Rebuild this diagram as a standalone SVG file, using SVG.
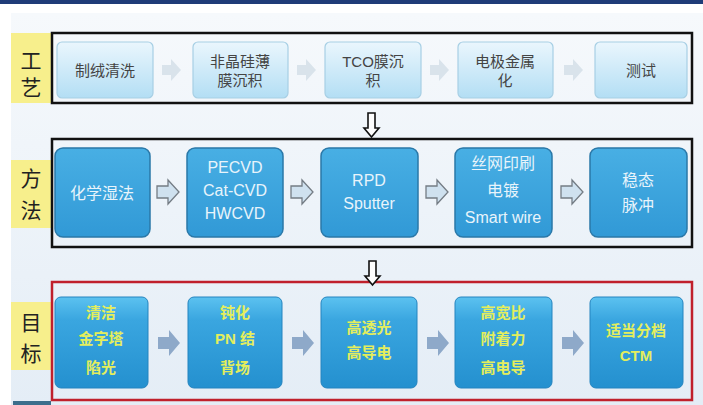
<svg xmlns="http://www.w3.org/2000/svg" width="703" height="405" viewBox="0 0 703 405">
  <defs>
    <linearGradient id="bg" x1="0" y1="0" x2="0" y2="1">
      <stop offset="0" stop-color="#f6f9fc"/>
      <stop offset="1" stop-color="#e4edf6"/>
    </linearGradient>
    <linearGradient id="g1" x1="0" y1="0" x2="0" y2="1">
      <stop offset="0" stop-color="#eaf6fd"/>
      <stop offset="1" stop-color="#b3def4"/>
    </linearGradient>
    <linearGradient id="g2" x1="0" y1="0" x2="0" y2="1">
      <stop offset="0" stop-color="#48afe4"/>
      <stop offset="1" stop-color="#3199d6"/>
    </linearGradient>
    <linearGradient id="g3" x1="0" y1="0" x2="0" y2="1">
      <stop offset="0" stop-color="#5cc2f0"/>
      <stop offset="0.25" stop-color="#3aa6e0"/>
      <stop offset="1" stop-color="#2490cf"/>
    </linearGradient>
    <style>
      .lbl{fill:#f7ef8c}
      .lt{font-family:"Liberation Sans","Noto Sans CJK SC",sans-serif;font-size:21px;fill:#222;text-anchor:middle;dominant-baseline:central}
      .frame{fill:none;stroke:#111;stroke-width:2.5}
      .frameR{fill:none;stroke:#c0202c;stroke-width:2.5}
      .n1 rect{fill:url(#g1);stroke:#a7cfe4;stroke-width:1.2}
      .n2 rect{fill:url(#g2);stroke:#2a78a8;stroke-width:1.5}
      .n3 rect{fill:url(#g3);stroke:#2484bf;stroke-width:1}
      .t1{font-family:"Liberation Sans","Noto Sans CJK SC",sans-serif;font-size:15px;fill:#444;text-anchor:middle;dominant-baseline:central}
      .t2{font-family:"Liberation Sans","Noto Sans CJK SC",sans-serif;font-size:16px;fill:#e8f4fb;text-anchor:middle;dominant-baseline:central}
      .t3{font-family:"Liberation Sans","Noto Sans CJK SC",sans-serif;font-size:15px;font-weight:bold;fill:#e4ee5c;text-anchor:middle;dominant-baseline:central}
      .a1{fill:#d9e3eb}
      .a2{fill:#cfe1ef;stroke:#747c84;stroke-width:1.3}
      .a3{fill:#8ea9c9}
      .ad{fill:#fdfdfd;stroke:#111;stroke-width:1.6}
    </style>
  </defs>

  <rect width="703" height="405" fill="#ffffff"/>
  <rect x="11" y="13" width="692" height="392" fill="url(#bg)"/>
  <rect x="0" y="0" width="703" height="4" fill="#1f3c78"/>
  <rect x="13" y="401" width="38" height="4" fill="#3c6e8c"/>

  <!-- Row labels -->
  <g id="label-gongyi">
    <rect class="lbl" x="11" y="33" width="41" height="70"/>
    <text class="lt" x="31" y="60">工</text>
    <text class="lt" x="31" y="87">艺</text>
  </g>
  <g id="label-fangfa">
    <rect class="lbl" x="11" y="160" width="41" height="68"/>
    <text class="lt" x="31" y="178">方</text>
    <text class="lt" x="31" y="210">法</text>
  </g>
  <g id="label-mubiao">
    <rect class="lbl" x="11" y="302" width="41" height="68"/>
    <text class="lt" x="31" y="322">目</text>
    <text class="lt" x="31" y="353">标</text>
  </g>

  <!-- Frames -->
  <rect class="frame" x="52" y="33" width="640" height="70"/>
  <rect class="frame" x="52" y="139" width="640" height="108"/>
  <rect class="frameR" x="52" y="282" width="640" height="118"/>

  <!-- Row 1 -->
  <g id="n1-1" class="n1"><rect x="57" y="42" width="96" height="56" rx="5"/><text class="t1" x="105" y="70">制绒清洗</text></g>
  <g id="n1-2" class="n1"><rect x="193" y="42" width="95" height="56" rx="5"/><text class="t1" x="240" y="61">非晶硅薄</text><text class="t1" x="240" y="80">膜沉积</text></g>
  <g id="n1-3" class="n1"><rect x="325" y="42" width="96" height="56" rx="5"/><text class="t1" x="373" y="61">TCO膜沉</text><text class="t1" x="373" y="80">积</text></g>
  <g id="n1-4" class="n1"><rect x="458" y="42" width="95" height="56" rx="5"/><text class="t1" x="505" y="61">电极金属</text><text class="t1" x="505" y="80">化</text></g>
  <g id="n1-5" class="n1"><rect x="595" y="42" width="92" height="56" rx="5"/><text class="t1" x="641" y="70">测试</text></g>

  <!-- Row 2 -->
  <g id="n2-1" class="n2"><rect x="55" y="148" width="95" height="89" rx="8"/><text class="t2" x="102" y="193">化学湿法</text></g>
  <g id="n2-2" class="n2"><rect x="187" y="148" width="96" height="89" rx="8"/><text class="t2" x="235" y="167">PECVD</text><text class="t2" x="235" y="190">Cat-CVD</text><text class="t2" x="235" y="213">HWCVD</text></g>
  <g id="n2-3" class="n2"><rect x="321" y="148" width="97" height="89" rx="8"/><text class="t2" x="369" y="180">RPD</text><text class="t2" x="369" y="203">Sputter</text></g>
  <g id="n2-4" class="n2"><rect x="455" y="148" width="97" height="89" rx="8"/><text class="t2" x="503" y="163">丝网印刷</text><text class="t2" x="503" y="190">电镀</text><text class="t2" x="503" y="217">Smart wire</text></g>
  <g id="n2-5" class="n2"><rect x="590" y="148" width="97" height="89" rx="8"/><text class="t2" x="638" y="180">稳态</text><text class="t2" x="638" y="205">脉冲</text></g>

  <!-- Row 3 -->
  <g id="n3-1" class="n3"><rect x="55" y="297" width="93" height="91" rx="6"/><text class="t3" x="101" y="312">清洁</text><text class="t3" x="101" y="338">金字塔</text><text class="t3" x="101" y="367">陷光</text></g>
  <g id="n3-2" class="n3"><rect x="188" y="297" width="94" height="91" rx="6"/><text class="t3" x="235" y="312">钝化</text><text class="t3" x="235" y="338">PN 结</text><text class="t3" x="235" y="367">背场</text></g>
  <g id="n3-3" class="n3"><rect x="321" y="297" width="96" height="91" rx="6"/><text class="t3" x="369" y="327">高透光</text><text class="t3" x="369" y="352">高导电</text></g>
  <g id="n3-4" class="n3"><rect x="455" y="297" width="97" height="91" rx="6"/><text class="t3" x="503" y="312">高宽比</text><text class="t3" x="503" y="338">附着力</text><text class="t3" x="503" y="367">高电导</text></g>
  <g id="n3-5" class="n3"><rect x="590" y="297" width="93" height="91" rx="6"/><text class="t3" x="636" y="330">适当分档</text><text class="t3" x="636" y="355">CTM</text></g>

  <!-- Connectors -->
  <g id="connectors">
    <path class="a1" d="M162,65 h9 v-6 l10,11 l-10,11 v-6 h-9 z"/>
    <path class="a1" d="M297,65 h9 v-6 l10,11 l-10,11 v-6 h-9 z"/>
    <path class="a1" d="M430,65 h9 v-6 l10,11 l-10,11 v-6 h-9 z"/>
    <path class="a1" d="M564,65 h9 v-6 l10,11 l-10,11 v-6 h-9 z"/>

    <path class="a2" d="M157,186 h11 v-6 l11,12 l-11,12 v-6 h-11 z"/>
    <path class="a2" d="M291,186 h11 v-6 l11,12 l-11,12 v-6 h-11 z"/>
    <path class="a2" d="M426,186 h11 v-6 l11,12 l-11,12 v-6 h-11 z"/>
    <path class="a2" d="M561,186 h11 v-6 l11,12 l-11,12 v-6 h-11 z"/>

    <path class="a3" d="M158,337 h11 v-7 l11,13 l-11,13 v-7 h-11 z"/>
    <path class="a3" d="M292,337 h11 v-7 l11,13 l-11,13 v-7 h-11 z"/>
    <path class="a3" d="M427,337 h11 v-7 l11,13 l-11,13 v-7 h-11 z"/>
    <path class="a3" d="M562,337 h11 v-7 l11,13 l-11,13 v-7 h-11 z"/>

    <path class="ad" d="M368,113 h7 v15 h4 l-7.5,9 l-7.5,-9 h4 z"/>
    <path class="ad" d="M369,261 h7 v15 h4 l-7.5,9 l-7.5,-9 h4 z"/>
  </g>
</svg>
